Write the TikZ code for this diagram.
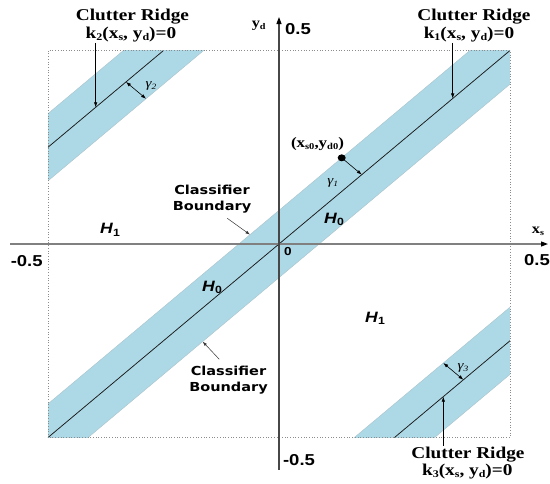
\documentclass[tikz,border=0pt]{standalone}
\usepackage{fontspec}
\setmainfont{Liberation Serif}
\setsansfont{Liberation Sans}
\newfontfamily\vfont{DejaVu Sans}
\usetikzlibrary{arrows.meta,shapes.geometric}
\definecolor{bandblue}{RGB}{173,216,230}
\newcommand\wide[1]{\scalebox{1.17}[1]{#1}}
\newcommand\sbs[1]{\raisebox{-0.3ex}{\scalebox{0.62}{#1}}}
\newcommand\hyp[1]{\textit{H}\raisebox{-0.35ex}{\scalebox{0.7}{\upshape #1}}}
\begin{document}
\begin{tikzpicture}[x=1pt,y=-1pt,
  crtext/.style={font=\bfseries\fontsize{16.5pt}{18pt}\selectfont, inner sep=0.5pt, anchor=base},
  cbtext/.style={font=\vfont\bfseries\fontsize{12.4pt}{16.5pt}\selectfont, align=center, inner sep=0.5pt},
  htext/.style={font=\sffamily\bfseries\fontsize{15pt}{17pt}\selectfont, inner sep=0.5pt, anchor=base},
  numtext/.style={font=\sffamily\bfseries\fontsize{15.8pt}{17pt}\selectfont, inner sep=0.5pt, anchor=base},
  axtext/.style={font=\bfseries\fontsize{14pt}{16pt}\selectfont, inner sep=0.5pt, anchor=base},
  pttext/.style={font=\bfseries\fontsize{14.5pt}{16pt}\selectfont, inner sep=0.5pt},
  gtext/.style={font=\itshape\fontsize{13pt}{15pt}\selectfont, inner sep=0.5pt},
  band/.style={fill=bandblue, draw=bandblue!75!black!70, line width=0.3pt},
  ridge/.style={draw=black!90, line width=0.75pt},
  boxline/.style={draw=black!45, line width=0.7pt, dotted},
  ptr/.style={draw=black, line width=0.6pt, -{Latex[length=5pt,width=3.5pt]}},
  cbptr/.style={draw=black!80, line width=0.5pt, -{Latex[length=4.5pt,width=3pt]}},
  gap/.style={draw=black, line width=0.6pt, {Latex[length=5pt,width=3.5pt]}-{Latex[length=5pt,width=3.5pt]}},
  axisline/.style={line width=1.1pt},
  dotmark/.style={ellipse, fill=black, inner sep=0pt, minimum width=8pt, minimum height=7pt},
]
\useasboundingbox (0,0) rectangle (550,483);
\begin{scope}[shift={(279,244)}, x=462pt, y=387pt]
  \def\w{0.087}
  \begin{scope}
    \clip (-0.5,-0.5) rectangle (0.5,0.5);
    \path[band] (-1,{-1+\w}) -- (1,{1+\w}) -- (1,{1-\w}) -- (-1,{-1-\w}) -- cycle;
    \path[band] (-1,{-0.25+\w}) -- (0.5,{1.25+\w}) -- (0.5,{1.25-\w}) -- (-1,{-0.25-\w}) -- cycle;
    \path[band] (-0.5,{-1.25+\w}) -- (1,{0.25+\w}) -- (1,{0.25-\w}) -- (-0.5,{-1.25-\w}) -- cycle;
  \end{scope}
  \coordinate (BL) at (-0.5,-0.5);
  \coordinate (TR) at (0.5,0.5);
  \coordinate (k2s) at (-0.5,0.25);
  \coordinate (k2e) at (-0.25,0.5);
  \coordinate (k3s) at (0.25,-0.5);
  \coordinate (k3e) at (0.5,-0.25);
  \coordinate (k2tip) at (-0.3968,0.3532);
  \coordinate (k1tip) at (0.3760,0.3760);
  \coordinate (k3tip) at (0.3556,-0.3944);
  \coordinate (g2a) at (-0.3312,0.4188);
  \coordinate (g2b) at ({-0.3312+\w/2},{0.4188-\w/2});
  \coordinate (dot) at (0.1357,{0.1357+\w});
  \coordinate (g1b) at ({0.1357+\w/2},{0.1357+\w/2});
  \coordinate (g3a) at (0.3556,{0.3556-0.75+\w});
  \coordinate (g3b) at ({0.3556+\w/2},{0.3556-0.75+\w/2});
  \coordinate (cb1tip) at (-0.0628,{-0.0628+\w});
  \coordinate (cb2tip) at (-0.1652,{-0.1652-\w});
  \draw[ridge] (BL) -- (TR);
  \draw[ridge] (k2s) -- (k2e);
  \draw[ridge] (k3s) -- (k3e);
  \draw[boxline] (BL) rectangle (TR);
\end{scope}
% axes
\coordinate (xl) at (10,244);
\coordinate (xr) at (548,244);
\coordinate (yb) at (279,470);
\coordinate (yt) at (279,17);
\draw[axisline, draw=black!50, -{Triangle[length=7pt,width=5pt,color=black]}] (xl) -- (xr);
\draw[axisline, draw=black!72, -{Triangle[length=7pt,width=5pt,color=black]}] (yb) -- (yt);
% labels
\node[crtext] (cr2) at (132.5,20) {\wide{Clutter Ridge}};
\node[crtext] (k2) at (131,38.5) {\wide{k\sbs{2}(x\sbs{s}, y\sbs{d})=0}};
\node[crtext] (cr1) at (474,20) {\wide{Clutter Ridge}};
\node[crtext] (k1) at (469,38.5) {\wide{k\sbs{1}(x\sbs{s}, y\sbs{d})=0}};
\node[crtext] (cr3) at (468,458) {\wide{Clutter Ridge}};
\node[crtext] (k3) at (467.3,475) {\wide{k\sbs{3}(x\sbs{s}, y\sbs{d})=0}};
\draw[ptr] (k2tip |- k2.south) -- (k2tip);
\draw[ptr] (k1tip |- k1.south) -- (k1tip);
\draw[ptr] (k3tip |- cr3.north) -- (k3tip);
\draw[gap] (g2a) -- (g2b);
\draw[gap] (g3a) -- (g3b);
\draw[ptr] (dot) -- (g1b);
\node[dotmark] (dotn) at (dot) {};
\node[gtext] (gam2) at (151,86) {\wide{γ\sbs{2}}};
\node[gtext] (gam1) at (332.7,182.7) {\wide{γ\sbs{1}}};
\node[gtext] (gam3) at (463,368) {\wide{γ\sbs{3}}};
\node[pttext] (pt) at (317.5,144) {\wide{(x\sbs{s0},y\sbs{d0})}};
\node[cbtext] (cb1) at (212,199) {\wide{Classifier}\\\wide{Boundary}};
\node[cbtext] (cb2) at (228.5,380) {\wide{Classifier}\\\wide{Boundary}};
\coordinate (cb1tail) at (227.3,218.3);
\coordinate (cb2tail) at (219.3,359.3);
\draw[cbptr] (cb1tail) -- (cb1tip);
\draw[cbptr] (cb2tail) -- (cb2tip);
\node[htext] (h1l) at (110,233.3) {\wide{\hyp{1}}};
\node[htext] (h1r) at (375,322) {\wide{\hyp{1}}};
\node[htext] (h0u) at (334,223) {\wide{\hyp{0}}};
\node[htext] (h0l) at (212,291) {\wide{\hyp{0}}};
\node[numtext] (ytop) at (298,34) {\wide{0.5}};
\node[numtext] (ybot) at (299,465) {\wide{-0.5}};
\node[numtext] (xleft) at (26.7,266.7) {\wide{-0.5}};
\node[numtext, anchor=base west] (xright) at (523.5,265) {\wide{0.5}};
\node[numtext, font=\sffamily\bfseries\fontsize{11.6pt}{13pt}\selectfont] (orig) at (288,255.7) {\wide{0}};
\node[axtext] (xs) at (538,233.3) {\wide{x\sbs{s}}};
\node[axtext] (yd) at (258.7,27.5) {\wide{y\sbs{d}}};
\end{tikzpicture}
\end{document}
